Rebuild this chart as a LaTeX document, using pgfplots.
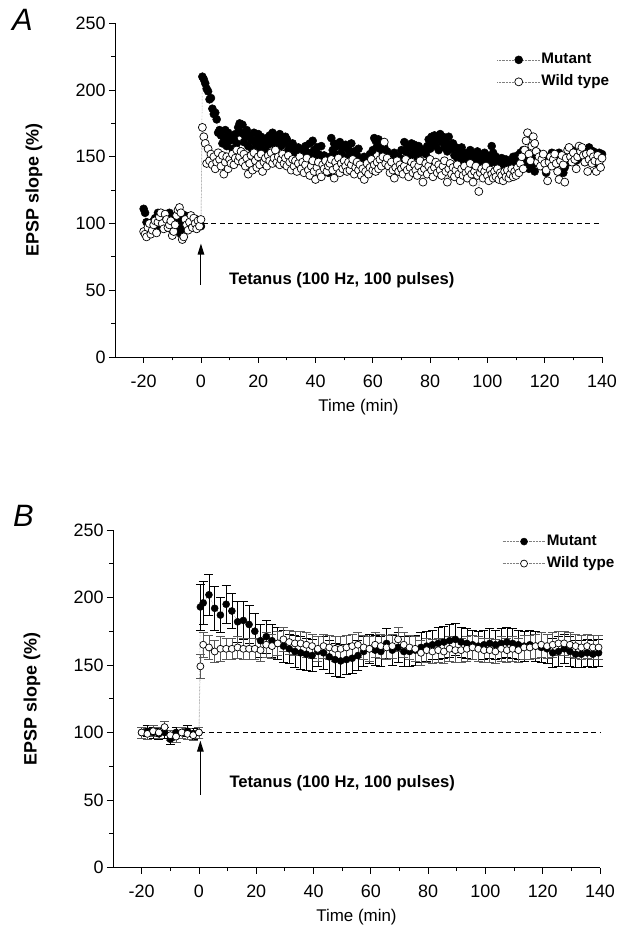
\documentclass[border=0pt]{standalone}
\usepackage{fontspec}
\setmainfont{Liberation Sans}
\usepackage{pgfplots}
\pgfplotsset{compat=1.18}
\usepackage{pgfplotstable}
\usetikzlibrary{arrows.meta}

% panel A: EPSP slope (%), one row per 30 s
\pgfplotstableread{
t m w
-20 111 94
-19.5 108 92
-19 101 90
-18.5 96 97
-18 93 100
-17.5 100 92
-17 98 95
-16.5 102 99
-16 104 102
-15.5 99 93
-15 108 101
-14.5 103 105
-14 97 108
-13.5 101 100
-13 100 96
-12.5 105 107
-12 98 103
-11.5 102 97
-11 108 99
-10.5 96 102
-10 99 91
-9.5 104 94
-9 103 99
-8.5 95 106
-8 101 110
-7.5 98 112
-7 92 108
-6.5 103 88
-6 97 90
-5.5 106 103
-5 101 99
-4.5 99 95
-4 104 101
-3.5 98 106
-3 102 97
-2.5 100 104
-2 97 100
-1.5 103 96
-1 99 102
-0.5 101 98
0 98 103
0.5 210 172
1 208 165
1.5 205 160
2 201 145
2.5 199 156
3 193 147
3.5 194 152
4 186 144
4.5 182 150
5 183 141
5.5 178 146
6 168 153
6.5 170 148
7 166 143
7.5 160 151
8 164 137
8.5 170 146
9 158 150
9.5 168 141
10 162 148
10.5 165 145
11 156 152
11.5 163 144
12 167 149
12.5 160 155
13 172 147
13.5 175 150
14 168 154
14.5 174 146
15 161 152
15.5 165 143
16 170 149
16.5 158 137
17 166 145
17.5 163 151
18 155 140
18.5 168 153
19 160 147
19.5 163 142
20 167 150
20.5 157 144
21 165 152
21.5 160 139
22 162 146
22.5 155 149
23 164 143
23.5 159 151
24 166 147
24.5 162 153
25 168 145
25.5 160 149
26 165 155
26.5 157 146
27 162 150
27.5 167 144
28 158 148
28.5 164 152
29 160 145
29.5 165 149
30 163 143
30.5 155 151
31 158 146
31.5 150 140
32 160 148
32.5 153 143
33 156 147
33.5 148 139
34 157 145
34.5 152 150
35 146 141
35.5 155 146
36 150 138
36.5 158 144
37 147 149
37.5 153 140
38 160 136
38.5 150 143
39 162 147
39.5 155 139
40 149 133
40.5 157 142
41 152 146
41.5 143 138
42 158 135
42.5 148 144
43 151 141
43.5 140 147
44 146 139
44.5 138 143
45 150 145
45.5 164 148
46 155 140
46.5 160 134
47 152 146
47.5 158 142
48 148 149
48.5 161 138
49 153 145
49.5 157 141
50 150 147
50.5 159 143
51 147 139
51.5 155 146
52 152 140
52.5 160 144
53 149 148
53.5 154 137
54 145 142
54.5 151 146
55 156 140
55.5 143 144
56 148 136
56.5 141 141
57 150 133
57.5 146 139
58 139 145
58.5 148 137
59 152 142
59.5 145 148
60 155 140
60.5 164 144
61 162 139
61.5 158 146
62 163 141
62.5 156 148
63 160 143
63.5 152 150
64 157 161
64.5 150 145
65 154 149
65.5 148 143
66 151 138
66.5 145 146
67 149 140
67.5 153 134
68 147 142
68.5 144 147
69 150 139
69.5 146 144
70 155 141
70.5 148 137
71 161 143
71.5 154 148
72 158 140
72.5 150 135
73 157 142
73.5 160 146
74 152 138
74.5 159 144
75 154 140
75.5 150 136
76 158 143
76.5 153 147
77 146 139
77.5 155 131
78 140 141
78.5 152 145
79 158 137
79.5 163 143
80 156 148
80.5 165 140
81 160 135
81.5 166 142
82 158 146
82.5 163 138
83 155 144
83.5 167 140
84 161 136
84.5 165 143
85 157 147
85.5 162 139
86 154 131
86.5 165 141
87 159 145
87.5 156 137
88 160 142
88.5 151 135
89 157 140
89.5 149 144
90 155 137
90.5 150 132
91 157 141
91.5 146 136
92 153 143
92.5 148 138
93 151 134
93.5 144 140
94 155 145
94.5 149 137
95 152 131
95.5 145 139
96 150 143
96.5 154 136
97 147 124
97.5 139 138
98 150 141
98.5 146 134
99 153 139
99.5 148 143
100 151 136
100.5 144 132
101 149 140
101.5 158 137
102 153 134
102.5 146 139
103 150 135
103.5 141 141
104 147 133
104.5 143 138
105 149 136
105.5 140 132
106 145 139
106.5 148 135
107 142 140
107.5 146 134
108 139 137
108.5 145 141
109 150 135
109.5 143 139
110 147 136
110.5 151 142
111 144 138
111.5 153 145
112 148 150
112.5 155 141
113 150 155
113.5 146 162
114 152 168
114.5 141 152
115 148 147
115.5 143 158
116 150 165
116.5 139 160
117 146 154
117.5 153 146
118 148 150
118.5 144 143
119 151 148
119.5 147 152
120 142 145
120.5 138 140
121 145 132
121.5 150 146
122 147 150
122.5 153 143
123 149 148
123.5 145 152
124 151 145
124.5 147 139
125 153 133
125.5 149 147
126 145 151
126.5 138 144
127 142 131
127.5 148 149
128 152 155
128.5 146 157
129 150 150
129.5 155 146
130 148 153
130.5 152 148
131 147 141
131.5 154 150
132 150 158
132.5 156 154
133 149 157
133.5 153 151
134 146 146
134.5 155 152
135 150 139
135.5 157 148
136 151 153
136.5 148 145
137 154 150
137.5 150 147
138 145 139
138.5 149 151
139 153 146
139.5 150 142
140 152 149
}\dataA

% panel B: means with SEM
\pgfplotstableread{
t m me w we
-20 100 4 100 4
-18 101 4 99 4
-16 100 4 101 4
-14 99 4 100 4
-12 100 4 104 4
-10 95 4 98 4
-8 100 4 97 4
-6 100 4 100 4
-4 101 4 99 4
-2 99 4 98 4
0 100 4 100 4
0.5 193 17 149 9
1.5 196 16 165 9
3.5 202 15 163 9
5.5 192 16 160 8
7.5 187 13 162 9
9.5 195 14 162 8
11.5 190 13 162 8
13.5 182 15 163 8
15.5 183 14 162 8
17.5 180 14 162 8
19.5 175 13 162 8
21.5 168 12 161 8
23.5 171 12 165 9
25.5 168 12 164 9
27.5 166 12 166 9
29.5 164 12 169 9
31.5 162 11 167 9
33.5 160 12 166 9
35.5 159 12 166 9
37.5 158 12 165 9
39.5 157 12 164 9
41.5 160 11 162 9
43.5 159 12 164 9
45.5 156 12 163 9
47.5 154 12 162 9
49.5 153 12 162 9
51.5 154 11 163 9
53.5 155 11 164 9
55.5 157 11 165 9
57.5 160 11 163 9
59.5 162 11 162 9
61.5 161 11 165 9
63.5 160 11 164 9
65.5 166 11 163 9
67.5 161 11 164 9
69.5 163 11 169 9
71.5 160 11 165 9
73.5 160 11 163 9
75.5 161 11 162 9
77.5 163 11 159 9
79.5 164 11 161 9
81.5 165 11 160 9
83.5 166 12 161 9
85.5 167 12 160 9
87.5 168 12 162 9
89.5 169 12 161 9
91.5 167 11 161 9
93.5 166 11 162 9
95.5 165 11 163 9
97.5 164 11 162 9
99.5 165 11 161 9
101.5 166 11 161 9
103.5 165 11 160 9
105.5 166 11 162 9
107.5 167 11 161 9
109.5 166 11 162 9
111.5 165 11 161 9
113.5 164 11 163 9
115.5 165 11 163 9
117.5 164 11 164 9
119.5 163 11 165 9
121.5 162 11 164 9
123.5 159 11 165 9
125.5 160 11 166 9
127.5 162 11 166 9
129.5 160 11 165 9
131.5 158 10 164 9
133.5 158 10 163 9
135.5 159 10 164 9
137.5 158 10 163 9
139.5 159 10 163 9
}\dataB

\pgfplotsset{
  ltp/.style={
    scale only axis, width=487bp,
    xmin=-30, xmax=140, ymin=0, ymax=250,
    axis lines=left, axis line style={-, line width=0.9bp},
    xtick={-20,0,...,140}, ytick={0,50,...,250},
    minor x tick num=1, minor y tick num=1,
    tick align=outside, major tick length=6bp, minor tick length=3.5bp,
    tick style={line width=0.8bp, black},
    /pgf/number format/assume math mode=true,
    ticklabel style={font=\fontsize{18}{21}\selectfont},
    xticklabel style={yshift=-8bp},
    xlabel={Time (min)}, ylabel={EPSP slope (\%)},
    every axis x label/.style={at={(axis description cs:0.5,0)}, anchor=center,
      yshift=-50bp, font=\fontsize{17}{20}\selectfont},
    every axis y label/.style={at={(axis description cs:-0.1663,0.5)}, anchor=center,
      rotate=90, font=\fontsize{18}{21}\selectfont\bfseries},
    legend cell align=left,
    legend image code/.code={\draw[mark repeat=2,mark phase=2] plot coordinates {(0bp,0bp) (21.5bp,0bp) (43bp,0bp)};},
    legend style={draw=none, fill=none, inner sep=0pt, row sep=6bp, anchor=north west,
      font=\fontsize{15.3}{18}\selectfont\bfseries,
      nodes={inner sep=1bp, text height=11bp, text depth=3bp}},
    clip=false,
  },
  mut/.style={draw=gray, line width=0.45bp, densely dotted, mark=*, mark size=4bp,
    mark options={solid, draw=black, fill=black, line width=0.5bp}},
  wt/.style={draw=gray, line width=0.45bp, densely dotted, mark=*, mark size=4bp,
    mark options={solid, draw=black, fill=white, line width=0.7bp}},
  base/.style={black, line width=0.9bp, dash pattern=on 5bp off 3.5bp, forget plot},
}

\begin{document}
\begin{tikzpicture}
\begin{axis}[ltp, height=333.7bp, at={(115bp,569bp)}, anchor=south west,
  legend style={at={(axis description cs:0.784,0.915)}}]
\addplot[mut] table[x=t,y=m]{\dataA};
\addlegendentry{Mutant}
\addplot[wt] table[x=t,y=w]{\dataA};
\addlegendentry{Wild type}
\addplot[base] coordinates {(0.7,100) (140,100)};
\draw[line width=1.1bp, -{Triangle[length=11bp, width=6.5bp]}] (axis cs:0,54) -- (axis cs:0,85);
\node[anchor=west, inner sep=0pt, font=\fontsize{16.7}{20}\selectfont\bfseries] at (axis cs:9.8,57.5) {Tetanus (100 Hz, 100 pulses)};
\end{axis}

\begin{axis}[ltp, height=337.5bp, at={(113bp,58.5bp)}, anchor=south west,
  legend style={at={(axis description cs:0.799,0.99)}}]
\addplot[mut, mark size=3.5bp, error bars/.cd, y dir=both, y explicit,
  error bar style={solid, black, line width=0.5bp},
  error mark options={rotate=90, mark size=4.5bp, solid, black, line width=0.5bp}]
  table[x=t,y=m,y error=me]{\dataB};
\addlegendentry{Mutant}
\addplot[wt, mark size=3.5bp, error bars/.cd, y dir=both, y explicit,
  error bar style={solid, black!65, line width=0.5bp},
  error mark options={rotate=90, mark size=4.5bp, solid, black!65, line width=0.5bp}]
  table[x=t,y=w,y error=we]{\dataB};
\addlegendentry{Wild type}
\addplot[base] coordinates {(0.5,100) (140,100)};
\draw[line width=1.1bp, -{Triangle[length=11bp, width=6.5bp]}] (axis cs:0.5,54) -- (axis cs:0.5,94);
\node[anchor=west, inner sep=0pt, font=\fontsize{16.7}{20}\selectfont\bfseries] at (axis cs:10.6,62.6) {Tetanus (100 Hz, 100 pulses)};
\end{axis}

\node[anchor=base west, inner sep=0pt, font=\fontsize{31}{31}\selectfont\itshape] at (12bp,895bp) {A};
\node[anchor=base west, inner sep=0pt, font=\fontsize{31}{31}\selectfont\itshape] at (13bp,399bp) {B};
\pgfresetboundingbox
\path[use as bounding box] (0,0) rectangle (618bp,926bp);
\end{tikzpicture}
\end{document}
